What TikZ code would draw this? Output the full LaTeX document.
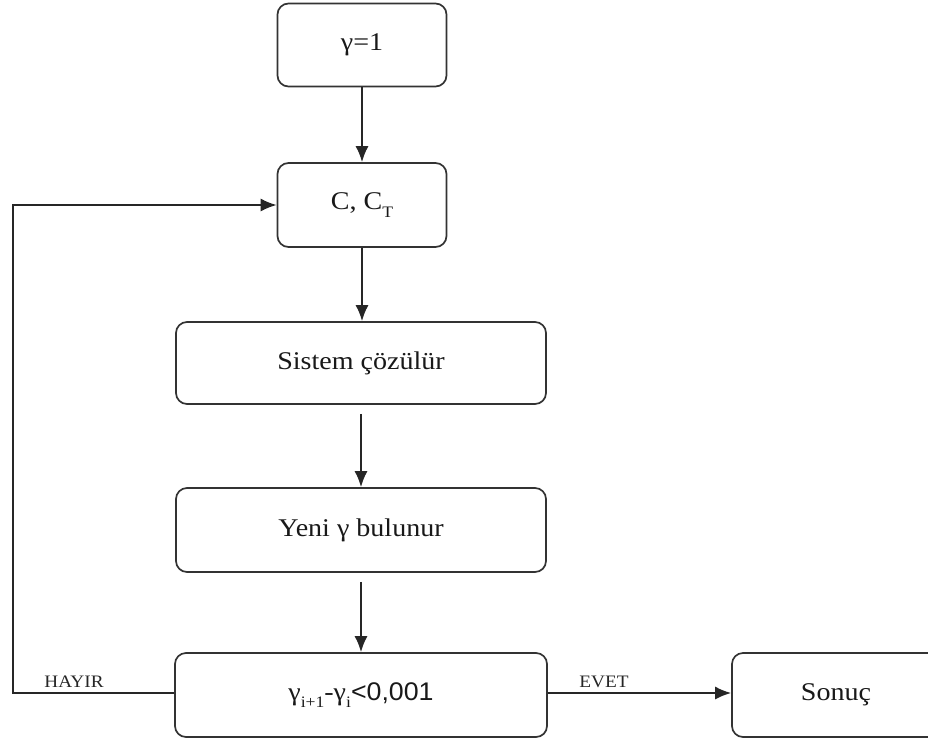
\documentclass[tikz,border=0pt]{standalone}
\usepackage{fontspec}
\setmainfont[FakeStretch=1.1]{Liberation Serif}
\newfontfamily\sansnum[FakeStretch=1.05]{Liberation Sans}
\usetikzlibrary{arrows.meta}
\newcommand{\lowsub}[1]{\raisebox{-0.28em}{\fontsize{16}{16}\selectfont #1}}
\begin{document}
\begin{tikzpicture}[x=1pt,y=-1pt,
  box/.style={draw=black!80, line width=1.7pt, rounded corners=11pt, inner sep=0pt,
    font=\fontsize{25.5}{30}\selectfont, text=black!90},
  arr/.style={-{Latex[length=16pt,width=13pt]}, line width=1.7pt, draw=black!85},
  lbl/.style={font=\fontsize{17.5}{20}\selectfont, inner sep=0pt, anchor=base, text=black!85}]
\path[use as bounding box] (0,0) rectangle (928,742);
\begin{scope}
\clip (0,0) rectangle (928,742);
\node[box, minimum width=169pt, minimum height=83pt] (n1) at (362,45) {γ=1};
\node[box, minimum width=169pt, minimum height=84pt] (n2) at (362,205) {C, C\lowsub{T}};
\node[box, minimum width=370pt, minimum height=82pt] (n3) at (361,363) {Sistem çözülür};
\node[box, minimum width=370pt, minimum height=84pt] (n4) at (361,530) {Yeni γ bulunur};
\node[box, minimum width=372pt, minimum height=84pt] (n5) at (361,695) {γ\lowsub{i+1}-γ\lowsub{i}{\sansnum<0,001}};
\node[box, minimum width=208pt, minimum height=84pt] (n6) at (836,695) {Sonuç};
\coordinate (fbA) at (13,693);
\coordinate (fbB) at (13,205);
\draw[arr] (n1.south) -- (n2.north);
\draw[arr] (n2.south) -- (n2.south |- n3.north);
\draw[arr, shorten <=9pt] (n3.south) -- (n4.north);
\draw[arr, shorten <=9pt] (n4.south) -- (n5.north);
\draw[arr] (n5.west |- fbA) -- (fbA) -- (fbB) -- (n2.west |- fbB);
\draw[arr] (n5.east |- fbA) -- (n6.west |- fbA);
\node[lbl] (hayir) at (74,687) {HAYIR};
\node[lbl] (evet) at (604,687) {EVET};
\end{scope}
\end{tikzpicture}
\end{document}
